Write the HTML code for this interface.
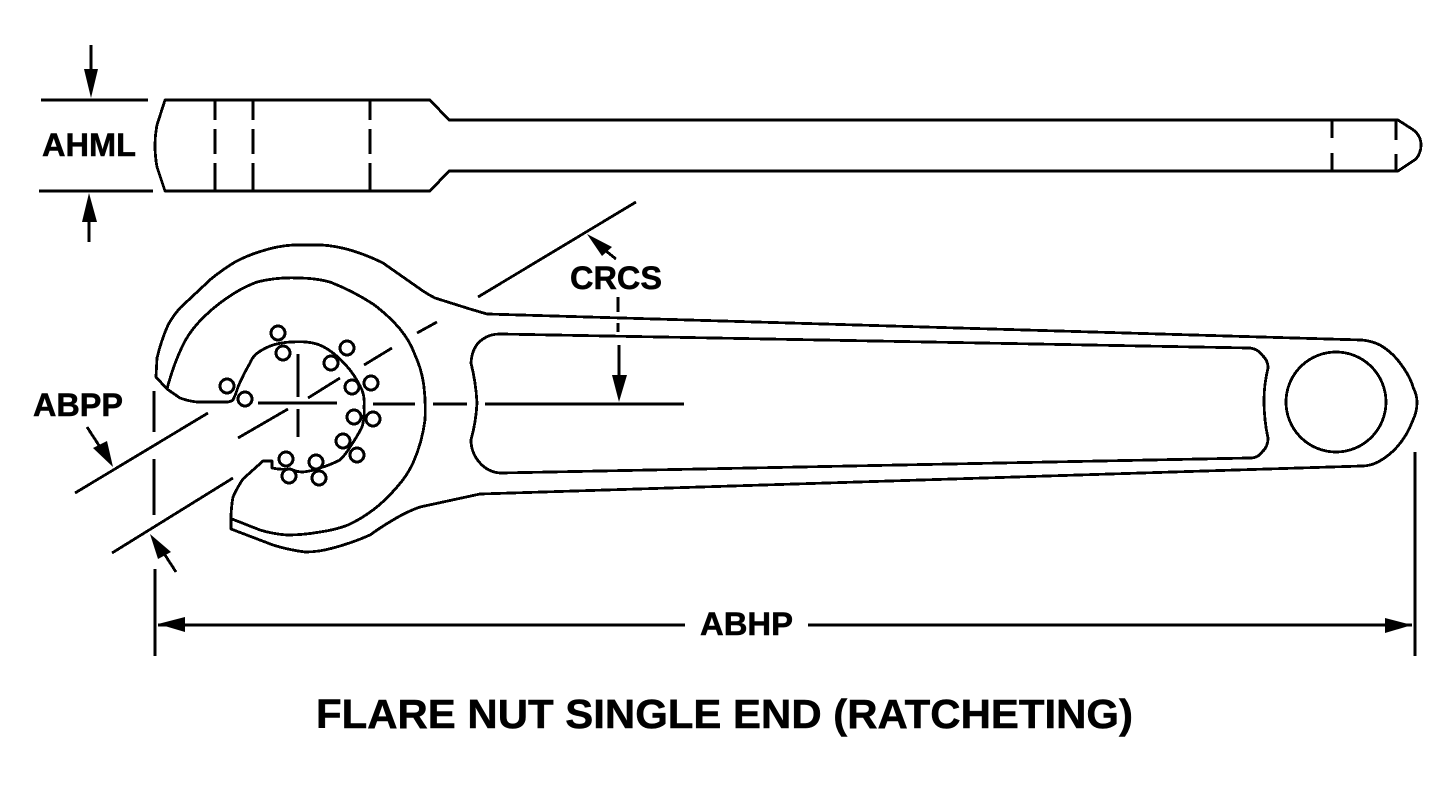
<!DOCTYPE html>
<html><head><meta charset="utf-8"><style>
html,body{margin:0;padding:0;background:#fff;width:1452px;height:808px;overflow:hidden}
svg{display:block}
.l{fill:none;stroke:#000;stroke-width:2.8;stroke-linejoin:round}
.c{fill:none;stroke:#000;stroke-width:3}
text{font-family:"Liberation Sans",Arial,sans-serif;font-weight:bold;font-size:32px;fill:#000;stroke:#000;stroke-width:.5}
</style></head><body>
<svg width="1452" height="808" viewBox="0 0 1452 808" xmlns="http://www.w3.org/2000/svg">
<rect width="1452" height="808" fill="#fff"/>
<g class="l" shape-rendering="crispEdges">
<!-- top view -->
<path d="M165 100L430 100L449 120L1398 120L1412 129Q1421 135 1421 145Q1421 153 1416 159L1398 171L449 171L430 191L165 191L157 167Q155 156 155 145Q155 135 157 125Z"/>
<path d="M215 100V120M215 129V154M215 163V191M253 100V120M253 129V154M253 163V191M370 100V120M370 129V154M370 163V191"/>
<path d="M1332 120V138M1332 153V171M1396 120V140M1396 154V171"/>
<path d="M41 100H148M39 191H153"/>
<path d="M91 45V70M89 222V242"/>
<!-- wrench outer -->
<path d="M156 377L157 358Q161 341 168 325Q173 316 180 308L211 279Q222 270 235 262Q248 255 262 251Q277 246 293 245L322 245Q336 246 350 250Q367 255 383 263L423 291Q429 295 435 298L470 309L487 314L1362 340Q1372 341 1380 345Q1392 352 1400 363Q1410 376 1413 387Q1417 395 1417 402Q1417 412 1413 420Q1407 436 1397 447Q1389 456 1378 462Q1370 466 1362 466L480 494L420 507Q406 512 393 520Q381 527 370 535Q352 543 333 548Q319 552 305 552Q289 550 273 545L231 529L231 519Q231 508 233 497Q237 488 243 479L263 461L272 461L272 468Q281 470 290 469Q297 472 303 472Q312 471 320 468Q330 465 340 460Q346 454 350 447Q357 437 362 427Q365 417 364 407Q365 398 362 390Q357 379 350 370Q342 360 333 353Q323 345 313 343Q303 341 293 342Q283 342 273 345Q264 348 256 354Q252 358 250 363Q243 375 238 387Q236 394 233 400Q230 402 227 402L197 402Q188 401 180 398L167 389Z"/>
<!-- jaw inner -->
<path d="M167 389Q173 366 182 347Q188 334 198 323Q212 308 227 298Q241 288 257 282Q277 277 298 278Q315 278 330 282Q353 291 373 304Q388 315 400 329Q410 341 415 355Q422 370 424 387Q426 404 425 420Q422 443 413 463Q407 476 397 487Q386 500 373 510Q361 519 348 525Q335 530 320 532Q303 535 287 535Q273 534 260 530L232 519"/>
<!-- pocket -->
<path d="M500 334L1250 348Q1258 349 1262 355Q1268 360 1268 368Q1264 385 1264 400Q1264 420 1268 438Q1268 447 1262 452Q1258 458 1250 458L500 473Q488 472 480 463Q471 453 471 440Q476 422 477 403Q476 383 471 363Q472 346 483 339Q490 334 500 334Z"/>
<circle cx="1336" cy="402" r="50"/>
<!-- centre lines -->
<path d="M258 403H337M298 354V397M298 409V437M308 398L340 378M238 438L288 409M364 365L392 348M417 333L437 322M478 297L636 202"/>
<path d="M373 404H415M433 404H467M485 404H684"/>
<path d="M75 493L208 413M112 553L233 478"/>
<path d="M154 391V432M154 459V515M155 569V656M1415 452V656"/>
<path d="M618 297V312M618 323V332M619 345V378"/>
<path d="M158 625H685M808 625H1412"/>
<path d="M87 427L100 447M176 572L165 555M616 259L606 251"/>
<!-- bearings -->
<circle class="c" cx="278" cy="333" r="7"/><circle class="c" cx="283" cy="353" r="7"/>
<circle class="c" cx="227" cy="386" r="7"/><circle class="c" cx="245" cy="399" r="7"/>
<circle class="c" cx="347" cy="348" r="7"/><circle class="c" cx="331" cy="363" r="7"/>
<circle class="c" cx="352" cy="387" r="7"/><circle class="c" cx="371" cy="383" r="7"/>
<circle class="c" cx="354" cy="417" r="7"/><circle class="c" cx="373" cy="419" r="7"/>
<circle class="c" cx="343" cy="441" r="7"/><circle class="c" cx="357" cy="455" r="7"/>
<circle class="c" cx="286" cy="459" r="7"/><circle class="c" cx="289" cy="476" r="7"/>
<circle class="c" cx="316" cy="462" r="7"/><circle class="c" cx="319" cy="478" r="7"/>
</g>
<g fill="#000" stroke="none">
<polygon points="84,69 98,69 91,98"/>
<polygon points="82,222 97,222 89,193"/>
<polygon points="93,448 107,441 113,467"/>
<polygon points="150,534 171,552 158,559"/>
<polygon points="587,234 612,247 602,256"/>
<polygon points="612,375 627,375 619,402"/>
<polygon points="158,624 185,617 185,632"/>
<polygon points="1412,625 1385,618 1385,633"/>
</g>
<text x="42" y="156" textLength="94" lengthAdjust="spacingAndGlyphs">AHML</text>
<text x="33" y="416" textLength="90" lengthAdjust="spacingAndGlyphs">ABPP</text>
<text x="570" y="289" textLength="92" lengthAdjust="spacingAndGlyphs">CRCS</text>
<text x="700" y="635" textLength="93" lengthAdjust="spacingAndGlyphs">ABHP</text>
<text x="316" y="728" style="font-size:40.5px" textLength="817" lengthAdjust="spacingAndGlyphs">FLARE NUT SINGLE END (RATCHETING)</text>
</svg>
</body></html>
